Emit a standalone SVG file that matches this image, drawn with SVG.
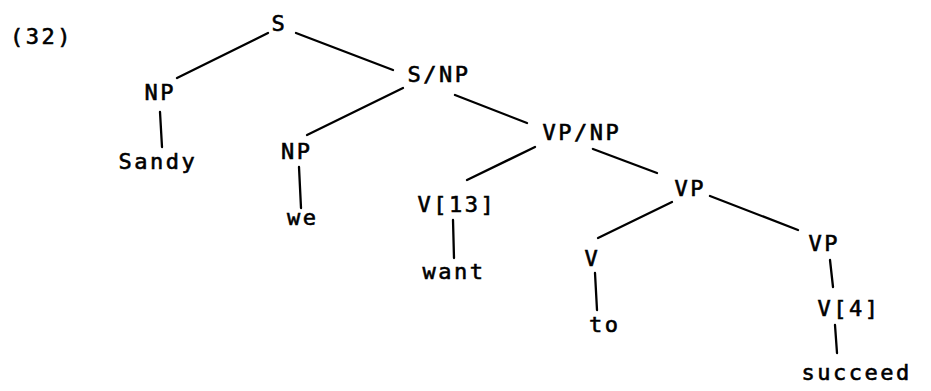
<svg xmlns="http://www.w3.org/2000/svg" width="931" height="391" viewBox="0 0 931 391">
  <style>
    .lbl { font-family: "DejaVu Sans Mono", "Liberation Mono", monospace; font-size: 22px; letter-spacing: 2.5px; fill: #000; stroke: #000; stroke-width: 0.6; }
    .edge { stroke: #000; stroke-width: 2.3; stroke-linecap: round; fill: none; }
  </style>
  <rect width="931" height="391" fill="#fff"/>

  <text class="lbl" x="10" y="44">(32)</text>

  <!-- branches of the tree -->
  <g id="connectors">
    <line class="edge" x1="268" y1="33" x2="177" y2="78"/>
    <line class="edge" x1="296" y1="33" x2="393" y2="70"/>
    <line class="edge" x1="160" y1="112" x2="162" y2="147"/>
    <line class="edge" x1="403" y1="88" x2="307" y2="135"/>
    <line class="edge" x1="455" y1="95" x2="527" y2="123"/>
    <line class="edge" x1="299" y1="167" x2="301" y2="208"/>
    <line class="edge" x1="535" y1="147" x2="467" y2="180"/>
    <line class="edge" x1="593" y1="149" x2="657" y2="173"/>
    <line class="edge" x1="453" y1="220" x2="454" y2="258"/>
    <line class="edge" x1="672" y1="202" x2="598" y2="238"/>
    <line class="edge" x1="710" y1="196" x2="798" y2="230"/>
    <line class="edge" x1="595" y1="273" x2="597" y2="310"/>
    <line class="edge" x1="830" y1="260" x2="833" y2="287"/>
    <line class="edge" x1="835" y1="325" x2="837" y2="353"/>
  </g>

  <g id="n-s"><text class="lbl" x="271.5" y="31">S</text></g>
  <g id="n-np1"><text class="lbl" x="144.5" y="100">NP</text></g>
  <g id="n-sandy"><text class="lbl" x="118.5" y="169">Sandy</text></g>
  <g id="n-snp"><text class="lbl" x="407.5" y="82">S/NP</text></g>
  <g id="n-np2"><text class="lbl" x="281" y="159">NP</text></g>
  <g id="n-we"><text class="lbl" x="287" y="225">we</text></g>
  <g id="n-vpnp"><text class="lbl" x="542.5" y="140">VP/NP</text></g>
  <g id="n-v13"><text class="lbl" x="417.5" y="212">V[13]</text></g>
  <g id="n-want"><text class="lbl" x="422.5" y="279">want</text></g>
  <g id="n-vp1"><text class="lbl" x="674.5" y="196">VP</text></g>
  <g id="n-v"><text class="lbl" x="584.5" y="266">V</text></g>
  <g id="n-to"><text class="lbl" x="589" y="332">to</text></g>
  <g id="n-vp2"><text class="lbl" x="808.5" y="251">VP</text></g>
  <g id="n-v4"><text class="lbl" x="817.5" y="316">V[4]</text></g>
  <g id="n-succeed"><text class="lbl" x="801.5" y="380">succeed</text></g>
</svg>
